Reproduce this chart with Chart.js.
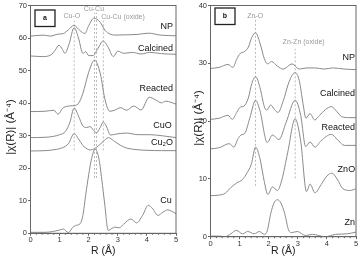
<!DOCTYPE html>
<html>
<head>
<meta charset="utf-8">
<script src="https://cdn.jsdelivr.net/npm/chart.js@4.4.1/dist/chart.umd.min.js"></script>
<style>
  html, body { margin: 0; padding: 0; background: #fff; }
  body { width: 361px; height: 264px; position: relative; overflow: hidden; }
  .panel { position: absolute; top: 0; width: 180px; height: 264px; }
  #panelA { left: 0; }
  #panelB { left: 181px; }
</style>
</head>
<body>
<div class="panel" id="panelA"><canvas id="chartA" width="180" height="264"></canvas></div>
<div class="panel" id="panelB"><canvas id="chartB" width="180" height="264"></canvas></div>
<script>
// ---- panel a : Cu K-edge, R in Angstrom / offset |chi(R)| ----
const rCuNP = [0, 0.44, 0.67, 0.95, 1.13, 1.3, 1.49, 1.7, 1.87, 1.99, 2.18, 2.39, 2.56, 2.74, 2.91, 3.31, 3.66, 4.06, 4.46, 5];
const cuNP  = [60.6, 60.9, 60.6, 61.2, 61.4, 62.5, 63.9, 62.3, 61.4, 63.6, 66.1, 64.9, 62.4, 61.2, 60.9, 61.0, 61.1, 61.5, 60.9, 60.7];

const rCuCal = [0, 0.4, 0.7, 0.85, 0.98, 1.1, 1.18, 1.32, 1.5, 1.65, 1.8, 1.9, 2.0, 2.15, 2.3, 2.5, 2.65, 2.85, 3.0, 3.2, 3.5, 3.8, 4.1, 4.5, 5];
const cuCal  = [54.5, 54.3, 54.8, 56.3, 57.8, 56.5, 55.3, 58.0, 63.2, 60.0, 55.3, 55.8, 54.6, 54.6, 56.5, 59.1, 57.5, 54.3, 56.0, 55.3, 55.6, 55.1, 55.6, 55.2, 55.0];

const rCuRea = [0, 0.5, 0.8, 0.95, 1.1, 1.3, 1.45, 1.64, 1.8, 2.0, 2.2, 2.4, 2.55, 2.72, 2.88, 3.1, 3.3, 3.55, 3.8, 4.08, 4.3, 4.5, 4.65, 5];
const cuRea  = [37.4, 37.5, 37.8, 36.6, 38.4, 39.1, 39.2, 39.8, 43.0, 49.5, 53.2, 49.0, 41.5, 37.5, 37.8, 38.6, 37.8, 39.1, 37.9, 41.8, 41.0, 40.1, 40.6, 39.7];

const rCuO = [0, 0.5, 0.8, 1.0, 1.2, 1.35, 1.5, 1.65, 1.8, 1.93, 2.05, 2.15, 2.27, 2.4, 2.5, 2.6, 2.75, 2.95, 3.3, 3.7, 4.1, 4.5, 5];
const cuO  = [29.4, 29.5, 29.8, 30.3, 31.3, 34.0, 38.5, 36.0, 33.0, 32.5, 32.8, 31.8, 30.9, 32.6, 34.2, 33.0, 30.2, 30.5, 30.8, 30.3, 30.3, 30.0, 29.4];

const rCu2O = [0, 0.5, 0.9, 1.1, 1.3, 1.5, 1.65, 1.8, 1.95, 2.05, 2.2, 2.45, 2.68, 2.85, 3.1, 3.3, 3.55, 4.0, 4.5, 5];
const cu2O  = [25.3, 25.4, 25.8, 26.3, 27.5, 30.6, 29.0, 27.0, 25.9, 25.6, 26.0, 27.8, 29.4, 28.5, 27.0, 26.2, 25.8, 25.5, 25.4, 25.4];

const rCuFoil = [0, 0.5, 0.8, 1.0, 1.13, 1.3, 1.45, 1.55, 1.7, 1.8, 1.9, 2.0, 2.1, 2.22, 2.35, 2.45, 2.55, 2.67, 2.8, 2.9, 3.05, 3.2, 3.45, 3.65, 3.85, 4.05, 4.2, 4.38, 4.55, 4.72, 4.85, 5];
const cuFoil  = [0.3, 0.3, 0.6, 1.0, 1.3, 0.2, 1.8, 2.4, 2.9, 5.5, 12.0, 18.0, 23.0, 25.8, 23.0, 16.5, 9.0, 0.9, 1.5, 1.9, 1.7, 2.8, 4.4, 3.2, 5.5, 8.6, 7.5, 5.5, 6.5, 7.2, 6.8, 6.0];

const namesA = ['NP', 'Calcined', 'Reacted', 'CuO', 'Cu₂O', 'Cu'];
// reference shells: R, lower end, upper end
const shellR_A   = [1.5, 2.2, 2.27, 2.5];
const shellLo_A  = [25.5, 17.0, 17.0, 25.5];
const shellHi_A  = [65.4, 67.8, 67.8, 65.4];
const tagsA = ['Cu-O', 'Cu-Cu', 'Cu-Cu (oxide)'];

// ---- panel b : Zn K-edge ----
const rZnNP = [0, 0.3, 0.6, 0.77, 0.9, 1.02, 1.16, 1.3, 1.42, 1.55, 1.7, 1.85, 1.96, 2.1, 2.3, 2.5, 2.8, 3.05, 3.3, 3.6, 3.9, 4.2, 4.6, 5];
const znNP  = [29.1, 29.3, 29.8, 29.3, 30.7, 31.7, 32.0, 32.8, 34.5, 35.3, 33.5, 30.8, 29.9, 30.3, 29.5, 29.0, 29.9, 29.0, 29.2, 29.2, 29.0, 29.2, 29.0, 28.9];

const rZnCal = [0, 0.3, 0.6, 0.75, 0.9, 1.02, 1.15, 1.3, 1.42, 1.55, 1.7, 1.85, 1.93, 2.07, 2.2, 2.32, 2.5, 2.7, 2.91, 3.05, 3.18, 3.28, 3.42, 3.58, 3.75, 3.95, 4.15, 4.35, 4.5, 4.75, 5];
const znCal  = [20.3, 20.5, 21.0, 20.3, 21.5, 22.4, 22.6, 24.0, 26.5, 27.7, 25.8, 22.5, 21.9, 22.8, 22.0, 21.5, 23.5, 26.8, 28.4, 27.0, 23.0, 20.5, 21.3, 20.2, 21.0, 22.0, 22.5, 21.6, 20.8, 20.6, 20.6];

const rZnRea = [0, 0.3, 0.65, 0.8, 0.95, 1.05, 1.18, 1.35, 1.55, 1.7, 1.95, 2.13, 2.35, 2.6, 2.91, 3.1, 3.27, 3.42, 3.59, 3.8, 4.15, 4.4, 4.6, 5];
const znRea  = [15.2, 15.4, 16.1, 15.5, 17.0, 17.6, 17.9, 20.5, 23.6, 21.8, 16.3, 17.6, 16.8, 19.8, 23.6, 21.0, 15.6, 16.4, 15.5, 16.6, 17.7, 16.6, 15.8, 15.8];

const rZnO = [0, 0.3, 0.5, 0.7, 0.9, 1.1, 1.25, 1.4, 1.55, 1.7, 1.85, 1.97, 2.13, 2.3, 2.45, 2.65, 2.91, 3.1, 3.3, 3.42, 3.59, 3.8, 4.0, 4.17, 4.35, 4.55, 4.8, 5];
const znO  = [7.1, 7.2, 7.5, 8.5, 9.3, 9.9, 11.0, 12.5, 15.5, 13.5, 9.5, 7.3, 8.6, 8.0, 9.8, 14.5, 20.4, 16.5, 7.8, 9.1, 7.6, 9.0, 10.5, 11.0, 10.0, 8.3, 8.0, 8.3];

const rZnFoil = [0, 0.3, 0.5, 0.7, 0.89, 1.1, 1.28, 1.5, 1.68, 1.85, 1.95, 2.07, 2.18, 2.3, 2.42, 2.55, 2.68, 2.78, 2.98, 3.27, 3.5, 3.94, 4.3, 4.7, 5];
const znFoil  = [0.1, 0.1, 0.0, 0.5, 1.1, 0.5, 0.9, 0.5, 0.9, 0.4, 1.0, 4.0, 5.8, 6.4, 5.8, 4.0, 1.2, 0.7, 0.9, 0.2, 0.4, 0.0, 0.4, 0.5, 0.8];

const namesB = ['NP', 'Calcined', 'Reacted', 'ZnO', 'Zn'];
const shellR_B  = [1.55, 2.91];
const shellLo_B = [8.8, 10.1];
const shellHi_B = [38.0, 32.5];
const tagsB = ['Zn-O', 'Zn-Zn (oxide)'];

const xTicks = [0, 1, 2, 3, 4, 5];

Chart.defaults.font.family = "'Liberation Sans', Arial, sans-serif";

// frame, minor ticks, texts
const decor = {
  id: 'decor',
  afterDatasetsDraw(chart, args, o) {
    const { ctx, chartArea: a, scales: { x, y } } = chart;
    ctx.save();
    ctx.strokeStyle = '#666';
    ctx.lineWidth = 1;
    ctx.strokeRect(a.left, a.top, a.right - a.left, a.bottom - a.top);

    ctx.beginPath();
    for (let i = 1; i < 25; i++) {
      if (i % 5 === 0) continue;
      const px = x.getPixelForValue(i * 0.2);
      ctx.moveTo(px, a.bottom);
      ctx.lineTo(px, a.bottom + 1.5);
    }
    ctx.stroke();

    // shell tags
    ctx.fillStyle = '#999';
    ctx.font = "7px 'Liberation Sans', Arial, sans-serif";
    ctx.textAlign = 'center';
    ctx.textBaseline = 'middle';
    o.tags.forEach((t, i) => {
      ctx.fillText(t, x.getPixelForValue(o.tagPos[i][0]), y.getPixelForValue(o.tagPos[i][1]));
    });

    // curve names
    ctx.fillStyle = '#111';
    ctx.font = "9px 'Liberation Sans', Arial, sans-serif";
    ctx.textAlign = 'right';
    o.names.forEach((t, i) => {
      ctx.fillText(t, x.getPixelForValue(o.namePos[i][0]), y.getPixelForValue(o.namePos[i][1]));
    });

    // panel letter
    const bx = a.left + 4.5, by = a.top + o.boxTop;
    ctx.strokeStyle = '#222';
    ctx.lineWidth = 1.3;
    ctx.strokeRect(bx, by, 20, 16.5);
    ctx.fillStyle = '#111';
    ctx.font = "bold 7px 'Liberation Sans', Arial, sans-serif";
    ctx.textAlign = 'center';
    ctx.fillText(o.letter, bx + 10, by + 8.5);

    // y title
    ctx.translate(o.yTitleX, o.yTitleY);
    ctx.rotate(-Math.PI / 2);
    ctx.font = "11.5px 'Liberation Sans', Arial, sans-serif";
    ctx.fillStyle = '#222';
    ctx.fillText('|χ(R)| (Å⁻⁴)', 0, 0);
    ctx.restore();
  }
};

function makeChart(id, p) {
  const curves = p.series.map(s => ({
    data: s[0].map((r, i) => ({ x: r, y: s[1][i] })),
    borderColor: '#8a8a8a',
    borderWidth: 1,
    pointRadius: 0,
    cubicInterpolationMode: 'monotone',
    order: 1
  }));
  const shells = p.shellR.map((r, i) => ({
    data: [{ x: r, y: p.shellLo[i] }, { x: r, y: p.shellHi[i] }],
    borderColor: '#aaa',
    borderWidth: 0.8,
    borderDash: [2, 2],
    pointRadius: 0,
    order: 2
  }));

  return new Chart(document.getElementById(id), {
    type: 'line',
    data: { datasets: shells.concat(curves) },
    plugins: [decor],
    options: {
      responsive: false,
      animation: false,
      layout: { padding: { left: 0, right: p.padRight, top: p.padTop, bottom: 0 } },
      plugins: {
        legend: { display: false },
        tooltip: { enabled: false },
        decor: p.decor
      },
      scales: {
        x: {
          type: 'linear', min: 0, max: 5,
          afterBuildTicks: s => { s.ticks = xTicks.map(v => ({ value: v })); },
          ticks: { color: '#333', font: { size: 7.5 }, padding: 0, maxRotation: 0 },
          grid: { drawOnChartArea: false, drawTicks: true, tickLength: 2.5, color: '#666' },
          border: { color: '#666' },
          title: { display: true, text: 'R (Å)', color: '#222', font: { size: 10.5 }, padding: { top: 0, bottom: p.xTitleBottom } },
          afterFit: s => { s.height = p.xHeight; }
        },
        y: {
          type: 'linear', min: 0, max: p.yMax,
          ticks: { stepSize: 10, color: '#333', font: { size: 7.5 }, padding: 1 },
          grid: { drawOnChartArea: false, drawTicks: true, tickLength: 2.5, color: '#666' },
          border: { color: '#666' },
          afterFit: s => { s.width = p.yWidth; }
        }
      }
    }
  });
}

makeChart('chartA', {
  series: [[rCuNP, cuNP], [rCuCal, cuCal], [rCuRea, cuRea], [rCuO, cuO], [rCu2O, cu2O], [rCuFoil, cuFoil]],
  shellR: shellR_A, shellLo: shellLo_A, shellHi: shellHi_A,
  yMax: 70, yWidth: 30.5, xHeight: 30.7, padRight: 4, padTop: 3.5, xTitleBottom: 7,
  decor: {
    tags: tagsA, tagPos: [[1.42, 66.9], [2.18, 68.9], [3.18, 66.6]],
    names: namesA, namePos: [[4.9, 63.5], [4.9, 56.9], [4.9, 44.6], [4.85, 33.0], [4.9, 27.9], [4.85, 10.2]],
    letter: 'a', boxTop: 4.5, yTitleX: 11, yTitleY: 127
  }
});

makeChart('chartB', {
  series: [[rZnNP, znNP], [rZnCal, znCal], [rZnRea, znRea], [rZnO, znO], [rZnFoil, znFoil]],
  shellR: shellR_B, shellLo: shellLo_B, shellHi: shellHi_B,
  yMax: 40, yWidth: 29.5, xHeight: 27.3, padRight: 5, padTop: 4.7, xTitleBottom: 7,
  decor: {
    tags: tagsB, tagPos: [[1.54, 38.2], [3.2, 33.6]],
    names: namesB, namePos: [[4.97, 31.0], [4.97, 24.7], [4.97, 18.9], [4.97, 11.6], [4.97, 2.4]],
    letter: 'b', boxTop: 2.5, yTitleX: 18, yTitleY: 118
  }
});
</script>
</body>
</html>
